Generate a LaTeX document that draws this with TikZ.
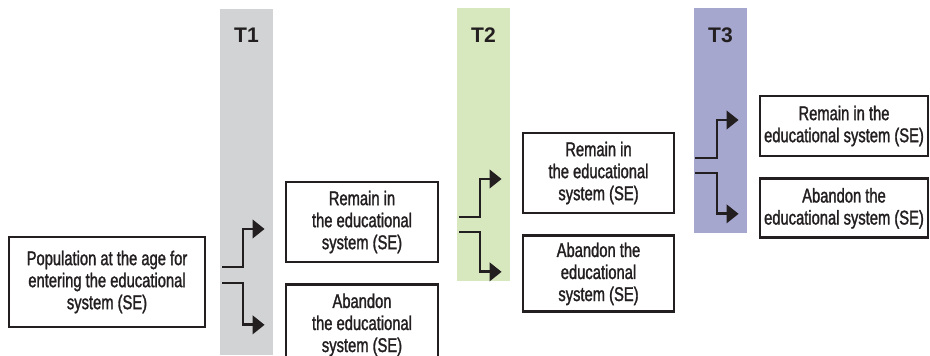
\documentclass[tikz,border=0pt]{standalone}
\usepackage{fontspec}
\setmainfont{Liberation Sans}[FakeStretch=0.74]
\newfontfamily\boxfont{Liberation Sans}[FakeStretch=0.74,RawFeature={embolden=1.4}]
\newfontfamily\tagfont{Liberation Sans}
\usepackage{tikz}
\usetikzlibrary{positioning,arrows.meta,calc}
\definecolor{ink}{HTML}{231F20}
\definecolor{tone}{HTML}{D1D3D4}
\definecolor{leaf}{HTML}{D7E8BE}
\definecolor{lilac}{HTML}{A5A7CE}

\begin{document}
\begin{tikzpicture}[x=0.03cm,y=0.03cm,node distance=0.6cm,
  box/.style={draw=ink,line width=0.085cm,fill=white,align=center,inner sep=2pt,text=ink,font=\boxfont\fontsize{17}{18.8}\selectfont},
  tag/.style={text=ink,font=\tagfont\bfseries\fontsize{18}{18}\selectfont},
  arr/.style={-{Triangle[length=0.36cm,width=0.55cm]},line width=0.085cm,ink,shorten >=0.6cm}]
\useasboundingbox (0,0) rectangle (930,355);
% time bands
\fill[tone] (220,0) rectangle (273,346);
\fill[leaf] (457,74) rectangle (510,347);
\fill[lilac] (694,122) rectangle (747,347);
\node[tag] (t1) at (246.5,320) {T1};
\node[tag] (t2) at (483.5,320) {T2};
\node[tag] (t3) at (720.5,320) {T3};
% boxes
\node[box,minimum width=5.88cm,minimum height=2.7cm] (pop) at (107,73) {Population at the age for\\entering the educational\\system (SE)};
\node[box,minimum width=4.56cm,minimum height=2.4cm] (rem1) at (362,133) {Remain in\\the educational\\system (SE)};
\node[box,minimum width=4.56cm,minimum height=2.4cm,below=of rem1] (aba1) {Abandon\\the educational\\system (SE)};
\node[box,minimum width=4.53cm,minimum height=2.4cm] (rem2) at (598.5,182) {Remain in\\the educational\\system (SE)};
\node[box,minimum width=4.53cm,minimum height=2.28cm,below=of rem2] (aba2) {Abandon the\\educational\\system (SE)};
\node[box,minimum width=5.04cm,minimum height=1.8cm] (rem3) at (844,229) {Remain in the\\educational system (SE)};
\node[box,minimum width=5.04cm,minimum height=1.77cm,below=of rem3] (aba3) {Abandon the\\educational system (SE)};
% split points
\coordinate (s1u) at (222,88);
\coordinate (s1d) at (222,72);
\coordinate (s2u) at (459,138);
\coordinate (s2d) at (459,123);
\coordinate (s3u) at (695,197);
\coordinate (s3d) at (695,182);
\draw[arr] (s1u) -- ++(21,0) |- ($(rem1.west)+(0,-7)$);
\draw[arr] (s1d) -- ++(21,0) |- (aba1.west);
\draw[arr] (s2u) -- ++(21,0) |- ($(rem2.west)+(0,-6)$);
\draw[arr] (s2d) -- ++(21,0) |- ($(aba2.west)+(0,2)$);
\draw[arr] (s3u) -- ++(22,0) |- ($(rem3.west)+(0,6)$);
\draw[arr] (s3d) -- ++(22,0) |- ($(aba3.west)+(0,-5.5)$);
\end{tikzpicture}
\end{document}
